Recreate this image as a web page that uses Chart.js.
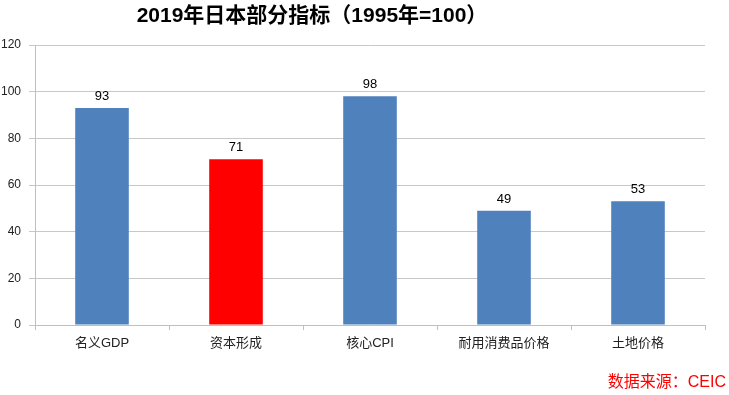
<!DOCTYPE html>
<html>
<head>
<meta charset="utf-8">
<script src="https://cdn.jsdelivr.net/npm/chart.js@4/dist/chart.umd.min.js"></script>
<style>
  html, body { margin: 0; padding: 0; background: #fff; }
  #wrap { position: relative; width: 729px; height: 395px; }
</style>
</head>
<body>
<div id="wrap"><canvas id="grafico" width="729" height="395"></canvas></div>
<script>
var categorias = ["名义GDP", "资本形成", "核心CPI", "耐用消费品价格", "土地价格"];
var valores = [93, 71, 98, 49, 53];
var cores = ["#4f81bd", "#ff0000", "#4f81bd", "#4f81bd", "#4f81bd"];
var ticksY = [0, 20, 40, 60, 80, 100, 120];

var fonte = "'Liberation Sans Narrow', 'Liberation Sans', 'Noto Sans CJK SC', sans-serif";

var textos = {
	id: "textos",
	afterDatasetsDraw: function(chart) {
		var ctx = chart.ctx;
		var meta = chart.getDatasetMeta(0);
		ctx.save();
		ctx.fillStyle = "#000";
		ctx.font = "13px " + fonte;
		ctx.textAlign = "center";
		ctx.textBaseline = "bottom";
		meta.data.forEach(function(bar, i) {
			ctx.fillText(valores[i], bar.x, bar.y - 5);
		});
		ctx.font = "bold 21px " + fonte;
		ctx.textBaseline = "middle";
		ctx.fillText("2019年日本部分指标（1995年=100）", 312, 16);
		ctx.fillStyle = "#ff0000";
		ctx.font = "16px " + fonte;
		ctx.textAlign = "right";
		ctx.fillText("数据来源：CEIC", 726, 383);
		ctx.restore();
	}
};

new Chart(document.getElementById("grafico"), {
	type: "bar",
	data: {
		labels: categorias,
		datasets: [{
			data: valores,
			backgroundColor: cores,
			barPercentage: 0.4,
			categoryPercentage: 1.0
		}]
	},
	options: {
		responsive: false,
		animation: false,
		layout: { padding: { top: 45, right: 24, bottom: 0, left: 0 } },
		plugins: { legend: { display: false }, tooltip: { enabled: false } },
		scales: {
			x: {
				grid: { offset: true, drawOnChartArea: false, tickLength: 5, color: "#bfbfbf" },
				border: { color: "#bfbfbf" },
				ticks: { color: "#222", font: { family: fonte, size: 13 }, padding: 6 },
				afterFit: function(scale) { scale.height = 70; }
			},
			y: {
				min: 0,
				max: 120,
				afterBuildTicks: function(scale) {
					scale.ticks = ticksY.map(function(v) { return { value: v }; });
				},
				grid: { color: "#c8c8c8", tickLength: 6 },
				border: { color: "#bfbfbf" },
				ticks: { color: "#222", font: { family: fonte, size: 12 }, padding: 8 },
				afterFit: function(scale) { scale.width = 35; }
			}
		}
	},
	plugins: [textos]
});
</script>
</body>
</html>
